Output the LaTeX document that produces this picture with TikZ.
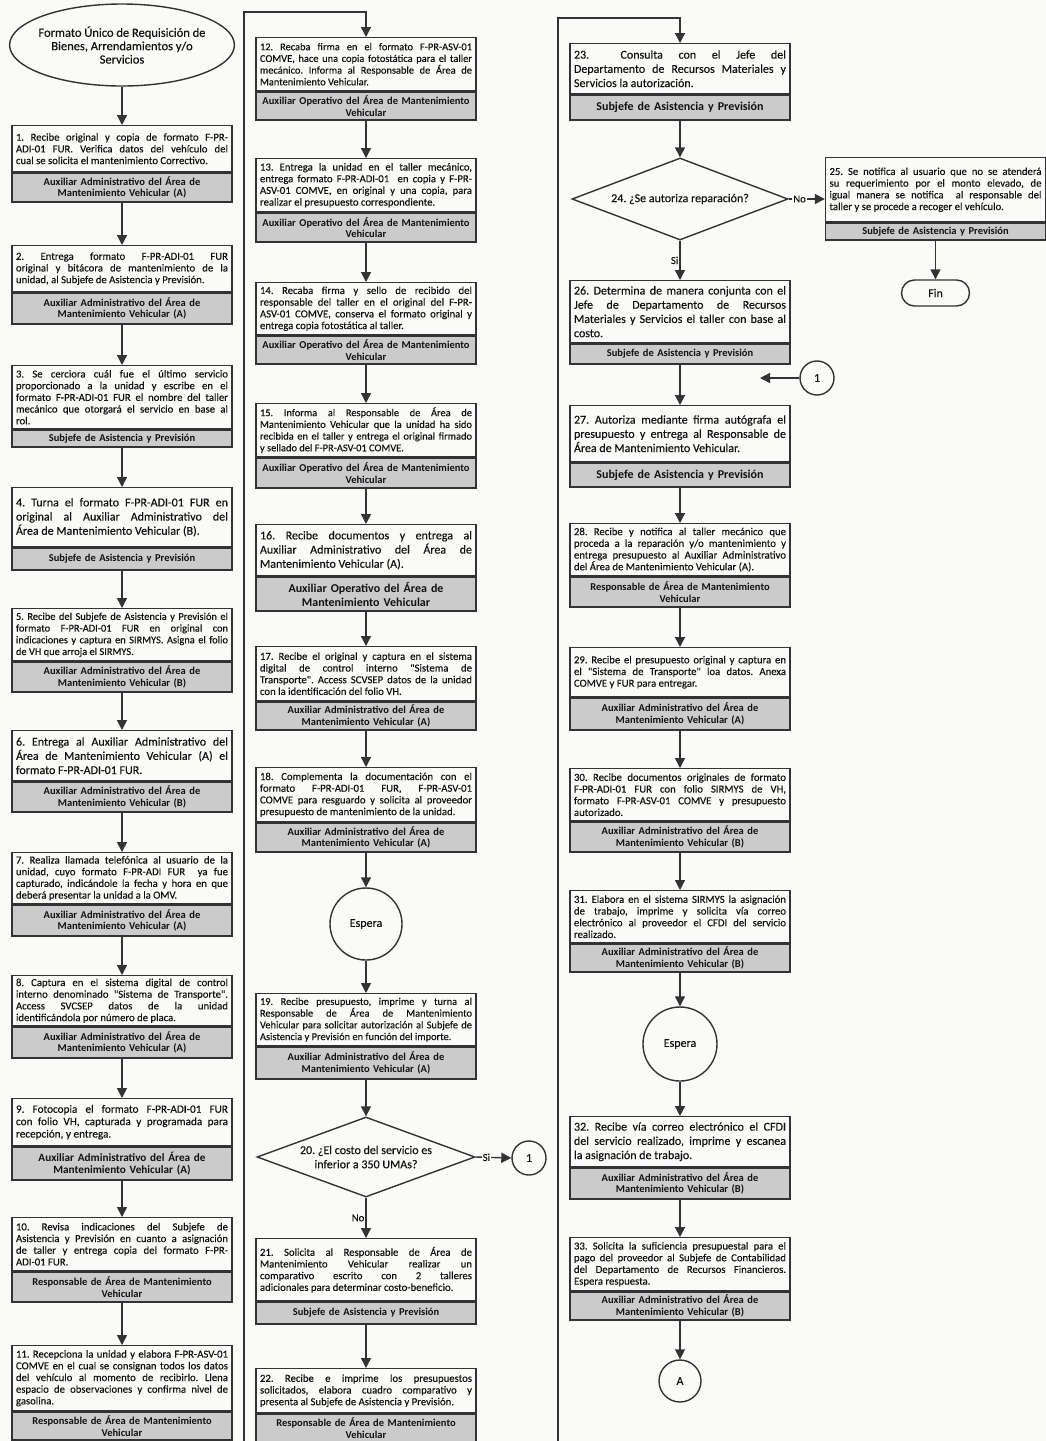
\documentclass[tikz,border=0pt]{standalone}
\usepackage{fontspec}
\setmainfont{Carlito}
\newfontfamily\heavyfont{Carlito}[FakeBold=0.25]
\usetikzlibrary{shapes.geometric,arrows.meta}
\definecolor{lc}{HTML}{333333}
\definecolor{labfill}{HTML}{CBCBCB}
\definecolor{txt}{HTML}{111111}
\definecolor{paper}{HTML}{FAFAF8}
\newcommand\fs{\heavyfont\fontsize{10.7}{11.7}\selectfont}
\newcommand\fss{\heavyfont\fontsize{10.4}{11.7}\selectfont}
\newcommand\fsb{\fontsize{10.5}{11.5}\selectfont\bfseries}
\newcommand\fm{\heavyfont\fontsize{11.2}{12.4}\selectfont}
\newcommand\fmb{\fontsize{11.2}{12.4}\selectfont\bfseries}
\newcommand\fl{\heavyfont\fontsize{12}{14.2}\selectfont}
\newcommand\flb{\fontsize{12}{14}\selectfont\bfseries}
\newcommand\fe{\heavyfont\fontsize{12.5}{13.4}\selectfont}
\newcommand\labAA{Auxiliar Administrativo del Área de\\Mantenimiento Vehicular (A)}
\newcommand\labAB{Auxiliar Administrativo del Área de\\Mantenimiento Vehicular (B)}
\newcommand\labAO{Auxiliar Operativo del Área de Mantenimiento\\Vehicular}
\newcommand\labRA{Responsable de Área de Mantenimiento\\Vehicular}
\newcommand\labSA{Subjefe de Asistencia y Previsión}
\newcommand\pbox[9]{%
  \node[body,font=#6,minimum height={#4-#3}] (#1) at (#2,#3) {#7};
  \node[lab,font=#8,minimum height={#5-#4}] (#1l) at (#1.south) {#9};
}
\setlength\parindent{0pt}
\hyphenpenalty=10000
\exhyphenpenalty=10000
\frenchspacing
\begin{document}
\begin{tikzpicture}[x=1pt,y=-1pt,
  ln/.style={draw=lc,line width=1.4pt},
  arr/.style={draw=lc,line width=1.4pt,-{Triangle[length=10pt,width=10pt]}},
  body/.style={draw=lc,line width=1.4pt,fill=paper,minimum width=220pt,text width=212pt,inner xsep=4pt,inner ysep=1pt,align=justify,anchor=north,text=txt,execute at begin node=\frenchspacing},
  lab/.style={draw=lc,line width=1.4pt,fill=labfill,minimum width=220pt,text width=212pt,inner xsep=4pt,inner ysep=0pt,align=center,anchor=north,text=txt},
  circ/.style={draw=lc,line width=1.4pt,circle,inner sep=0pt,text=txt,font=\fl},
  dec/.style={draw=lc,line width=1.4pt,diamond,inner sep=0pt,align=center,text=txt,font=\fl},
  edgelab/.style={font=\fs,text=txt,inner sep=1pt},
]
\fill[paper] (0,0) rectangle (1046,1441);
\useasboundingbox (0,0) rectangle (1046,1441);

% ---------------- column 1
\node[draw=lc,line width=1.4pt,ellipse,minimum width=224pt,minimum height=82pt,inner xsep=-4pt,inner ysep=0pt,align=center,font=\fe,text=txt] (start) at (122,45) {Formato Único de Requisición de\\Bienes, Arrendamientos y/o\\Servicios};

\pbox{b1}{122}{125}{171}{200}{\fs}{1. Recibe original y copia de formato F-PR-\linebreak ADI-01 FUR. Verifica datos del vehículo del\linebreak cual se solicita el mantenimiento Correctivo.}{\fsb}{\labAA}
\pbox{b2}{122}{245}{291}{322}{\fs}{2. Entrega formato F-PR-ADI-01 FUR\linebreak original y bitácora de mantenimiento de la\linebreak unidad, al Subjefe de Asistencia y Previsión.}{\fsb}{\labAA}
\pbox{b3}{122}{365}{428}{445}{\fs}{3. Se cerciora cuál fue el último servicio\linebreak proporcionado a la unidad y escribe en el\linebreak formato F-PR-ADI-01 FUR el nombre del taller\linebreak mecánico que otorgará el servicio en base al\linebreak rol.}{\fsb}{\labSA}
\pbox{b4}{122}{487}{546}{568}{\fl}{4. Turna el formato F-PR-ADI-01 FUR en\linebreak original al Auxiliar Administrativo del\linebreak Área de Mantenimiento Vehicular (B).}{\fsb}{\labSA}
\pbox{b5}{122}{608}{660}{690}{\fss}{5. Recibe del Subjefe de Asistencia y Previsión el\linebreak formato F-PR-ADI-01 FUR en original con\linebreak indicaciones y captura en SIRMYS. Asigna el folio\linebreak de VH que arroja el SIRMYS.}{\fsb}{\labAB}
\pbox{b6}{122}{730}{780}{810}{\fl}{6. Entrega al Auxiliar Administrativo del\linebreak Área de Mantenimiento Vehicular (A) el\linebreak formato F-PR-ADI-01 FUR.}{\fsb}{\labAB}
\pbox{b7}{122}{852}{903}{934}{\fs}{7. Realiza llamada telefónica al usuario de la\linebreak unidad, cuyo formato F-PR-ADI FUR\ \ ya fue\linebreak capturado, indicándole la fecha y hora en que\linebreak deberá presentar la unidad a la OMV.}{\fsb}{\labAA}
\pbox{b8}{122}{975}{1025}{1056}{\fs}{8. Captura en el sistema digital de control\linebreak interno denominado "Sistema de Transporte".\linebreak Access SVCSEP datos de la unidad\linebreak identificándola por número de placa.}{\fsb}{\labAA}
\pbox{b9}{122}{1098}{1145}{1178}{\fm}{9. Fotocopia el formato F-PR-ADI-01 FUR\linebreak con folio VH, capturada y programada para\linebreak recepción, y entrega.}{\fmb}{\labAA}
\pbox{b10}{122}{1217}{1270}{1300}{\fs}{10. Revisa indicaciones del Subjefe de\linebreak Asistencia y Previsión en cuanto a asignación\linebreak de taller y entrega copia del formato F-PR-\linebreak ADI-01 FUR.}{\fsb}{\labRA}
\pbox{b11}{122}{1345}{1410}{1438}{\fs}{11. Recepciona la unidad y elabora F-PR-ASV-01\linebreak COMVE en el cual se consignan todos los datos\linebreak del vehículo al momento de recibirlo. Llena\linebreak espacio de observaciones y confirma nivel de\linebreak gasolina.}{\fsb}{\labRA}

\draw[arr] (start.south) -- (b1.north);
\foreach \a/\b in {b1/b2,b2/b3,b3/b4,b4/b5,b5/b6,b6/b7,b7/b8,b8/b9,b9/b10,b10/b11}
  \draw[arr] (\a l.south) -- (\b.north);
\coordinate (e1) at (122,1441);
\draw[ln] (b11l.south) -- (e1);

% ---------------- column 2
\pbox{b12}{366}{37}{90}{118}{\fss}{12. Recaba firma en el formato F-PR-ASV-01\linebreak COMVE, hace una copia fotostática para el taller\linebreak mecánico. Informa al Responsable de Área de\linebreak Mantenimiento Vehicular.}{\fsb}{\labAO}
\pbox{b13}{366}{158}{211}{240}{\fs}{13. Entrega la unidad en el taller mecánico,\linebreak entrega formato F-PR-ADI-01\ \ en copia y F-PR-\linebreak ASV-01 COMVE, en original y una copia, para\linebreak realizar el presupuesto correspondiente.}{\fsb}{\labAO}
\pbox{b14}{366}{282}{334}{362}{\fs}{14. Recaba firma y sello de recibido del\linebreak responsable del taller en el original del F-PR-\linebreak ASV-01 COMVE, conserva el formato original y\linebreak entrega copia fotostática al taller.}{\fsb}{\labAO}
\pbox{b15}{366}{403}{456}{486}{\fss}{15. Informa al Responsable de Área de\linebreak Mantenimiento Vehicular que la unidad ha sido\linebreak recibida en el taller y entrega el original firmado\linebreak y sellado del F-PR-ASV-01 COMVE.}{\fsb}{\labAO}
\pbox{b16}{366}{524}{575}{609}{\fl}{16. Recibe documentos y entrega al\linebreak Auxiliar Administrativo del Área de\linebreak Mantenimiento Vehicular (A).}{\flb}{Auxiliar Operativo del Área de\\Mantenimiento Vehicular}
\pbox{b17}{366}{646}{700}{728}{\fs}{17. Recibe el original y captura en el sistema\linebreak digital de control interno "Sistema de\linebreak Transporte". Access SCVSEP datos de la unidad\linebreak con la identificación del folio VH.}{\fsb}{\labAA}
\pbox{b18}{366}{767}{821}{850}{\fs}{18. Complementa la documentación con el\linebreak formato F-PR-ADI-01 FUR, F-PR-ASV-01\linebreak COMVE para resguardo y solicita al proveedor\linebreak presupuesto de mantenimiento de la unidad.}{\fsb}{\labAA}
\node[circ,fill=paper,minimum size=72pt] (esp1) at (366,924) {Espera};
\pbox{b19}{366}{993}{1045}{1077}{\fss}{19. Recibe presupuesto, imprime y turna al\linebreak Responsable de Área de Mantenimiento\linebreak Vehicular para solicitar autorización al Subjefe de\linebreak Asistencia y Previsión en función del importe.}{\fsb}{\labAA}
\node[dec,aspect=2.725,minimum width=218pt,minimum height=80pt] (d20) at (366,1157) {20. ¿El costo del servicio es\\inferior a 350 UMAs?};
\node[circ,minimum size=34pt] (c1a) at (529,1158) {1};
\pbox{b21}{366}{1238}{1300}{1322}{\fs}{21. Solicita al Responsable de Área de\linebreak Mantenimiento Vehicular realizar un\linebreak comparativo escrito con 2 talleres\linebreak adicionales para determinar costo-beneficio.}{\fsb}{\labSA}
\pbox{b22}{366}{1368}{1412}{1440}{\fs}{22. Recibe e imprime los presupuestos\linebreak solicitados, elabora cuadro comparativo y\linebreak presenta al Subjefe de Asistencia y Previsión.}{\fsb}{\labRA}

\coordinate (t2a) at (244,1441);
\coordinate (t2b) at (244,12);
\draw[arr] (t2a) -- (t2b) -| (b12.north);
\foreach \a/\b in {b12/b13,b13/b14,b14/b15,b15/b16,b16/b17,b17/b18}
  \draw[arr] (\a l.south) -- (\b.north);
\draw[arr] (b18l.south) -- (esp1.north);
\draw[arr] (esp1.south) -- (b19.north);
\draw[arr] (b19l.south) -- (d20.north);
\draw[arr] (d20.east) -- node[edgelab,fill=paper,pos=0.3]{Si} (c1a.west);
\draw[arr] (d20.south) -- node[edgelab,anchor=east,pos=0.5]{No} (b21.north);
\draw[arr] (b21l.south) -- (b22.north);

% ---------------- column 3
\pbox{b23}{680}{43}{93}{118}{\fl}{23.\ \ Consulta con el Jefe del\linebreak Departamento de Recursos Materiales y\linebreak Servicios la autorización.}{\flb}{\labSA}
\node[dec,aspect=2.63,minimum width=216pt,minimum height=82pt] (d24) at (680,199) {24. ¿Se autoriza reparación?};
\pbox{b26}{680}{280}{342}{362}{\fl}{26. Determina de manera conjunta con el\linebreak Jefe de Departamento de Recursos\linebreak Materiales y Servicios el taller con base al\linebreak costo.}{\fsb}{\labSA}
\node[circ,minimum size=34pt] (c1b) at (817,378) {1};
\coordinate (c1end) at (760,378);
\pbox{b27}{680}{405}{461}{485}{\fl}{27. Autoriza mediante firma autógrafa el\linebreak presupuesto y entrega al Responsable de\linebreak Área de Mantenimiento Vehicular.}{\flb}{\labSA}
\pbox{b28}{680}{523}{575}{605}{\fs}{28. Recibe y notifica al taller mecánico que\linebreak proceda a la reparación y/o mantenimiento y\linebreak entrega presupuesto al Auxiliar Administrativo\linebreak del Área de Mantenimiento Vehicular (A).}{\fsb}{\labRA}
\pbox{b29}{680}{647}{696}{728}{\fs}{29. Recibe el presupuesto original y captura en\linebreak el "Sistema de Transporte" loa datos. Anexa\linebreak COMVE y FUR para entregar.}{\fsb}{\labAA}
\pbox{b30}{680}{768}{820}{850}{\fs}{30. Recibe documentos originales de formato\linebreak F-PR-ADI-01 FUR con folio SIRMYS de VH,\linebreak formato F-PR-ASV-01 COMVE y presupuesto\linebreak autorizado.}{\fsb}{\labAB}
\pbox{b31}{680}{890}{942}{970}{\fs}{31. Elabora en el sistema SIRMYS la asignación\linebreak de trabajo, imprime y solicita vía correo\linebreak electrónico al proveedor el CFDI del servicio\linebreak realizado.}{\fsb}{\labAB}
\node[circ,minimum size=74pt] (esp2) at (680,1044) {Espera};
\pbox{b32}{680}{1116}{1166}{1197}{\fl}{32. Recibe vía correo electrónico el CFDI\linebreak del servicio realizado, imprime y escanea\linebreak la asignación de trabajo.}{\fsb}{\labAB}
\pbox{b33}{680}{1237}{1290}{1318}{\fs}{33. Solicita la suficiencia presupuestal para el\linebreak pago del proveedor al Subjefe de Contabilidad\linebreak del Departamento de Recursos Financieros.\linebreak Espera respuesta.}{\fsb}{\labAB}
\node[circ,minimum size=42pt] (cA) at (680,1381) {A};

% ---------------- column 4
\pbox{b25}{935.5}{157}{221}{238}{\fs}{25. Se notifica al usuario que no se atenderá\linebreak su requerimiento por el monto elevado,\ de\linebreak igual manera se notifica\ \ al responsable del\linebreak taller y se procede a recoger el vehículo.}{\fsb}{\labSA}
\node[draw=lc,line width=1.4pt,rounded corners=13pt,minimum width=68pt,minimum height=26pt,inner sep=0pt,font=\fl,text=txt] (fin) at (935.5,293) {Fin};

\coordinate (t3a) at (558,1441);
\coordinate (t3b) at (558,18);
\draw[arr] (t3a) -- (t3b) -| (b23.north);
\draw[arr] (b23l.south) -- (d24.north);
\draw[arr] (d24.south) -- node[edgelab,anchor=east,pos=0.5]{Si} (b26.north);
\draw[arr] (d24.east) -- node[edgelab,fill=paper,pos=0.3]{No} (b25.west |- d24.east);
\draw[arr] (b26l.south) -- (b27.north);
\draw[arr] (c1b.west) -- (c1end);
\foreach \a/\b in {b27/b28,b28/b29,b29/b30,b30/b31}
  \draw[arr] (\a l.south) -- (\b.north);
\draw[arr] (b31l.south) -- (esp2.north);
\draw[arr] (esp2.south) -- (b32.north);
\draw[arr] (b32l.south) -- (b33.north);
\draw[arr] (b33l.south) -- (cA.north);
\draw[arr] (b25l.south) -- (fin.north);
\end{tikzpicture}
\end{document}
